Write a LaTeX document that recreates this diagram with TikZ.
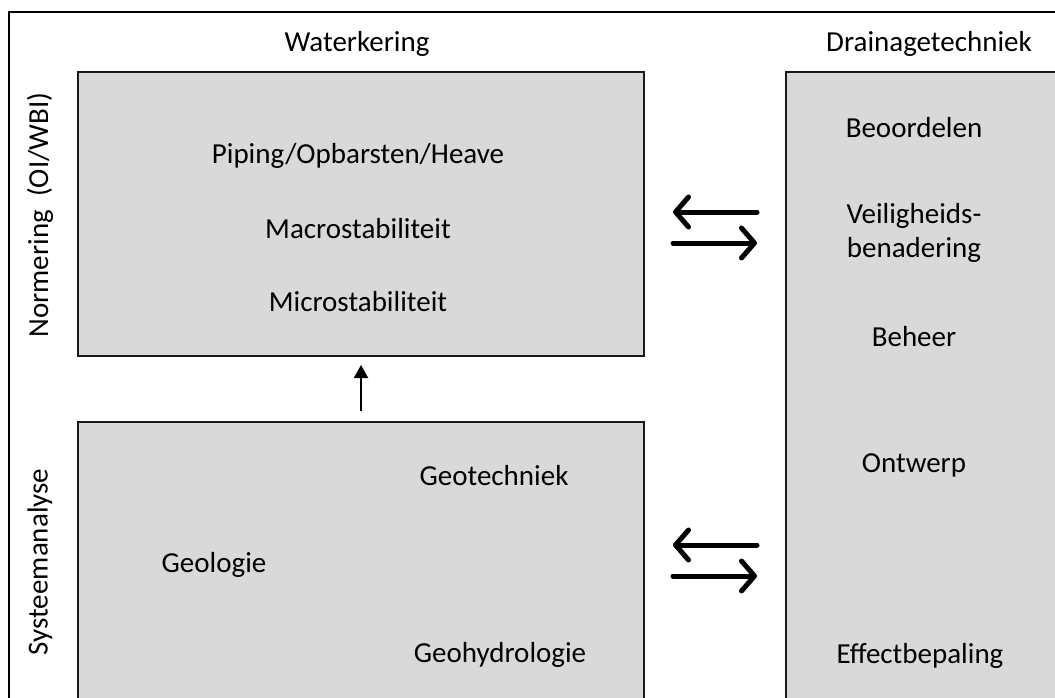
\documentclass[tikz,border=0pt]{standalone}
\usepackage{fontspec}
\setmainfont{Carlito}
\usetikzlibrary{arrows.meta}
\definecolor{boxgray}{HTML}{D9D9D9}
\begin{document}
\begin{tikzpicture}[x=1pt,y=-1pt,
  panel/.style={draw=black!90,line width=2pt,fill=boxgray},
  lbl/.style={inner sep=0pt,font=\fontsize{29}{34}\selectfont},
  exchange/.style={line width=5pt,line cap=round,-{Straight Barb[length=13pt,width=30pt,line cap=round,line join=round]}},
  feed/.style={line width=2pt,-{Triangle[length=13pt,width=14pt]}}]
\useasboundingbox (0,0) rectangle (1055,698);
\clip (0,0) rectangle (1055,698);
% outer frame
\draw[line width=1.5pt] (9,12) rectangle (1070,720);
% panels
\node[panel,minimum width=566pt,minimum height=284pt,anchor=north west] (wk) at (77,71) {};
\node[panel,minimum width=566pt,minimum height=300pt,anchor=north west] (sa) at (77,421) {};
\node[panel,minimum width=290pt,minimum height=650pt,anchor=north west] (dt) at (785,71) {};
% headings
\node[lbl] (hwk) at (357,44) {Waterkering};
\node[lbl] (hdt) at (929,44) {Drainagetechniek};
\node[lbl,rotate=90] (hno) at (40,215) {Normering\ \ (OI/WBI)};
\node[lbl,rotate=90] (hsa) at (40,562) {Systeemanalyse};
% waterkering contents
\node[lbl] (pip) at (358,156) {Piping/Opbarsten/Heave};
\node[lbl] (mac) at (358,229) {Macrostabiliteit};
\node[lbl] (mic) at (358,302) {Microstabiliteit};
% systeemanalyse contents
\node[lbl] (gtc) at (494,476) {Geotechniek};
\node[lbl] (glg) at (214,565) {Geologie};
\node[lbl] (ghy) at (500,655) {Geohydrologie};
% drainagetechniek contents
\node[lbl] (beo) at (914,128) {Beoordelen};
\node[lbl,align=center] (vei) at (914,233) {Veiligheids-\\benadering};
\node[lbl] (beh) at (914,337) {Beheer};
\node[lbl] (ont) at (914,465) {Ontwerp};
\node[lbl] (eff) at (920,656) {Effectbepaling};
% connectors
\coordinate (a1r) at (757,212); \coordinate (a1l) at (673,212);
\coordinate (b1l) at (673,243); \coordinate (b1r) at (757,243);
\coordinate (a2r) at (757,545); \coordinate (a2l) at (673,545);
\coordinate (b2l) at (673,576); \coordinate (b2r) at (757,576);
\draw[exchange] (a1r) -- (a1l);
\draw[exchange] (b1l) -- (b1r);
\draw[exchange] (a2r) -- (a2l);
\draw[exchange] (b2l) -- (b2r);
\draw[feed] (sa.north) ++(0,-10) -- ([yshift=-8pt]wk.south);
\end{tikzpicture}
\end{document}
